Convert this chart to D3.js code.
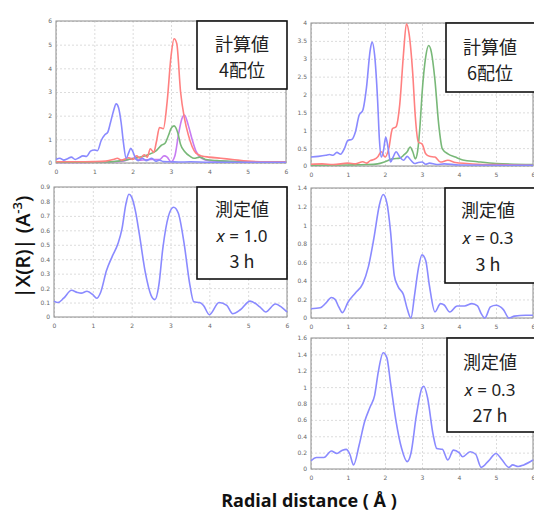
<!DOCTYPE html>
<html>
<head>
<meta charset="utf-8">
<script src="https://cdn.jsdelivr.net/npm/d3@7"></script>
<style>
  body { margin: 0; background: #fff; }
  svg { display: block; }
</style>
</head>
<body>
<div id="chart"></div>
<script>
// x axis of every panel: radial distance 0..6
var xTicks = [0, 1, 2, 3, 4, 5, 6]

// top left: calculated, 4-coordinated
var calc4Ticks = [0, 1, 2, 3, 4, 5, 6]
var calc4Blue = [[0,0.15],[0.1,0.2],[0.2,0.12],[0.3,0.18],[0.4,0.25],[0.5,0.15],[0.6,0.22],[0.7,0.3],[0.8,0.28],[0.9,0.5],[1.0,0.55],[1.08,0.52],[1.18,0.95],[1.28,1.2],[1.35,1.3],[1.42,1.7],[1.5,2.2],[1.57,2.5],[1.63,2.35],[1.7,1.7],[1.76,0.85],[1.83,0.2],[1.9,0.45],[1.95,0.62],[2.0,0.5],[2.06,0.25],[2.15,0.1],[2.25,0.2],[2.35,0.1],[2.5,0.2],[2.6,0.08],[2.7,0.12],[2.8,0.06],[3.0,0.05],[3.2,0.04],[3.5,0.05],[4,0.03],[5,0.03],[6,0.03]]
var calc4Red = [[0,0.05],[0.5,0.05],[1,0.06],[1.3,0.08],[1.5,0.15],[1.6,0.2],[1.7,0.12],[1.9,0.22],[2.0,0.15],[2.1,0.3],[2.2,0.2],[2.3,0.35],[2.38,0.25],[2.46,0.6],[2.55,0.45],[2.62,0.9],[2.7,1.5],[2.8,1.45],[2.9,2.6],[3.0,4.5],[3.08,5.25],[3.15,5.05],[3.25,3.0],[3.35,1.9],[3.45,1.2],[3.55,0.7],[3.65,0.42],[3.8,0.3],[4.0,0.25],[4.3,0.2],[4.6,0.15],[5.0,0.08],[5.5,0.05],[6,0.05]]
var calc4Green = [[0,0.03],[1,0.04],[1.5,0.06],[1.8,0.12],[2.0,0.18],[2.2,0.25],[2.4,0.35],[2.6,0.5],[2.75,0.75],[2.85,0.85],[2.93,1.15],[3.0,1.45],[3.08,1.57],[3.18,1.26],[3.25,0.78],[3.35,0.5],[3.5,0.28],[3.6,0.2],[3.75,0.25],[3.9,0.15],[4.2,0.1],[4.6,0.07],[5.2,0.05],[6,0.03]]
var calc4Purple = [[0,0.02],[1,0.03],[1.5,0.05],[1.8,0.1],[2.0,0.2],[2.2,0.12],[2.5,0.15],[2.7,0.15],[2.82,0.3],[2.9,0.25],[3.0,0.05],[3.1,0.3],[3.2,1.25],[3.28,1.85],[3.35,2.03],[3.45,1.6],[3.55,1.0],[3.65,0.5],[3.8,0.2],[4.0,0.1],[4.5,0.06],[6,0.03]]

// top right: calculated, 6-coordinated
var calc6Ticks = [0, 0.5, 1, 1.5, 2, 2.5, 3, 3.5, 4]
var calc6Blue = [[0,0.25],[0.2,0.27],[0.4,0.3],[0.5,0.32],[0.6,0.3],[0.7,0.38],[0.8,0.33],[0.9,0.48],[1.0,0.72],[1.1,0.74],[1.2,0.95],[1.3,1.42],[1.4,1.56],[1.5,2.2],[1.6,3.24],[1.65,3.47],[1.72,3.1],[1.8,1.84],[1.85,0.72],[1.9,0.25],[1.96,0.44],[2.02,0.81],[2.08,0.53],[2.15,0.11],[2.22,0.25],[2.3,0.4],[2.4,0.25],[2.5,0.16],[2.6,0.27],[2.7,0.16],[2.8,0.07],[2.9,0.1],[3.0,0.11],[3.1,0.05],[3.2,0.08],[3.4,0.04],[3.6,0.06],[4,0.03],[6,0.02]]
var calc6Red = [[0,0.05],[0.3,0.06],[0.6,0.04],[1.0,0.08],[1.2,0.06],[1.4,0.12],[1.5,0.08],[1.6,0.15],[1.7,0.18],[1.8,0.25],[1.9,0.4],[2.0,0.25],[2.1,0.48],[2.2,1.04],[2.3,1.1],[2.4,1.74],[2.5,3.14],[2.58,3.98],[2.65,3.7],[2.75,2.58],[2.82,1.37],[2.9,0.67],[3.0,0.62],[3.1,0.34],[3.2,0.27],[3.35,0.25],[3.5,0.11],[3.7,0.16],[3.9,0.1],[4.2,0.07],[4.5,0.05],[5,0.04],[6,0.02]]
var calc6Green = [[0,0.02],[1,0.03],[1.5,0.04],[1.8,0.06],[2.0,0.12],[2.2,0.2],[2.4,0.22],[2.5,0.3],[2.6,0.4],[2.68,0.53],[2.75,0.4],[2.82,0.2],[2.88,0.4],[2.95,1.18],[3.0,2.0],[3.1,3.05],[3.18,3.37],[3.25,3.2],[3.35,2.4],[3.45,1.18],[3.55,0.48],[3.7,0.34],[3.9,0.25],[4.1,0.17],[4.5,0.12],[5,0.07],[6,0.04]]

// middle left: measured, x = 1.0, 3 h
var meas10Ticks = [0, 0.1, 0.2, 0.3, 0.4, 0.5, 0.6, 0.7, 0.8, 0.9]
var meas10 = [[0,0.11],[0.1,0.1],[0.25,0.13],[0.45,0.185],[0.6,0.17],[0.7,0.165],[0.85,0.178],[1.0,0.155],[1.1,0.13],[1.2,0.17],[1.35,0.32],[1.5,0.42],[1.65,0.51],[1.75,0.61],[1.85,0.78],[1.93,0.85],[2.0,0.83],[2.1,0.73],[2.2,0.57],[2.35,0.31],[2.5,0.15],[2.6,0.12],[2.7,0.22],[2.8,0.47],[2.95,0.7],[3.08,0.76],[3.2,0.72],[3.35,0.51],[3.5,0.22],[3.6,0.105],[3.75,0.1],[3.85,0.08],[4.0,0.016],[4.25,0.1],[4.45,0.08],[4.6,0.023],[4.8,0.05],[5.05,0.11],[5.3,0.07],[5.45,0.035],[5.7,0.09],[5.85,0.07],[6.0,0.035]]

// middle right: measured, x = 0.3, 3 h
var meas03Ticks = [0, 0.2, 0.4, 0.6, 0.8, 1, 1.2, 1.4]
var meas03 = [[0,0.1],[0.25,0.11],[0.4,0.16],[0.55,0.22],[0.65,0.2],[0.75,0.12],[0.85,0.058],[1.0,0.17],[1.2,0.27],[1.4,0.37],[1.55,0.55],[1.7,0.86],[1.85,1.22],[1.95,1.33],[2.05,1.24],[2.15,0.93],[2.25,0.46],[2.35,0.34],[2.5,0.25],[2.6,0.1],[2.7,0.0],[2.8,0.25],[2.9,0.53],[3.0,0.68],[3.1,0.62],[3.2,0.35],[3.35,0.065],[3.5,0.155],[3.6,0.14],[3.75,0.065],[3.95,0.13],[4.15,0.13],[4.35,0.155],[4.5,0.13],[4.6,0.047],[4.7,0.0],[4.85,0.12],[5.0,0.137],[5.2,0.09],[5.35,0.0],[5.5,0.02],[5.8,0.03],[6.0,0.03]]

// bottom right: measured, x = 0.3, 27 h
var meas03LongTicks = [0, 0.2, 0.4, 0.6, 0.8, 1, 1.2, 1.4, 1.6]
var meas03Long = [[0,0.1],[0.15,0.14],[0.35,0.14],[0.55,0.22],[0.7,0.19],[0.85,0.23],[0.95,0.24],[1.05,0.18],[1.15,0.05],[1.3,0.29],[1.45,0.58],[1.6,0.76],[1.72,0.9],[1.82,1.19],[1.95,1.42],[2.05,1.36],[2.15,1.05],[2.3,0.58],[2.45,0.25],[2.6,0.09],[2.7,0.19],[2.85,0.66],[3.0,0.99],[3.05,1.01],[3.15,0.87],[3.3,0.42],[3.4,0.25],[3.55,0.24],[3.7,0.11],[3.85,0.23],[4.0,0.2],[4.1,0.15],[4.3,0.21],[4.45,0.18],[4.6,0.02],[4.8,0.1],[5.0,0.19],[5.15,0.12],[5.35,0.02],[5.45,0.05],[5.6,0.03],[5.75,0.05],[6.0,0.11]]

var blue = "#8a8aff", red = "#ff8080", green = "#78b878", purple = "#c77cf2"

var svg = d3.select("#chart").append("svg")
    .attr("width", 534)
    .attr("height", 516)
    .style("font-family", "'Noto Sans', sans-serif")

var panels = [
    { box: [56, 286, 21, 163], ticks: calc4Ticks,
      series: [[calc4Purple, purple], [calc4Green, green], [calc4Red, red], [calc4Blue, blue]],
      label: { rect: [197, 287, 21, 89], cx: 242, lines: [["計算値", 43], ["4配位", 69]] } },
    { box: [311, 533, 23, 166], ticks: calc6Ticks,
      series: [[calc6Green, green], [calc6Red, red], [calc6Blue, blue]],
      label: { rect: [446, 537, 23, 92], cx: 490, lines: [["計算値", 46], ["6配位", 72]] } },
    { box: [54, 287, 187, 317], ticks: meas10Ticks,
      series: [[meas10, blue]],
      label: { rect: [197, 287, 187, 279], cx: 242, lines: [["測定値", 208], ["= 1.0", 235, true], ["3 h", 260]] } },
    { box: [311, 533, 188, 318], ticks: meas03Ticks,
      series: [[meas03, blue]],
      label: { rect: [445, 537, 188, 283], cx: 488, lines: [["測定値", 209], ["= 0.3", 237, true], ["3 h", 263]] } },
    { box: [311, 533, 338, 469], ticks: meas03LongTicks,
      series: [[meas03Long, blue]],
      label: { rect: [447, 537, 338, 432], cx: 490, lines: [["測定値", 361], ["= 0.3", 389, true], ["27 h", 414]] } }
]

panels.forEach(function(p) {
    var x = d3.scaleLinear().domain([0, 6]).range([p.box[0], p.box[1]])
    var y = d3.scaleLinear().domain([0, d3.max(p.ticks)]).range([p.box[3], p.box[2]])
    var w = p.box[1] - p.box[0]
    var h = p.box[3] - p.box[2]

    var g = svg.append("g")

    // grid
    g.append("g")
        .attr("transform", "translate(0," + p.box[3] + ")")
        .call(d3.axisBottom(x).tickValues(xTicks).tickSize(-h).tickFormat(""))
        .call(function(s) { gridStyle(s) })
    g.append("g")
        .attr("transform", "translate(" + p.box[0] + ",0)")
        .call(d3.axisLeft(y).tickValues(p.ticks).tickSize(-w).tickFormat(""))
        .call(function(s) { gridStyle(s) })

    // frame
    g.append("rect")
        .attr("x", p.box[0]).attr("y", p.box[2])
        .attr("width", w).attr("height", h)
        .attr("fill", "none").attr("stroke", "#8c8c8c").attr("stroke-width", 1)

    // tick labels
    g.append("g")
        .attr("transform", "translate(0," + p.box[3] + ")")
        .call(d3.axisBottom(x).tickValues(xTicks).tickSize(0).tickPadding(7).tickFormat(d3.format("d")))
        .call(function(s) { labelStyle(s) })
    g.append("g")
        .attr("transform", "translate(" + p.box[0] + ",0)")
        .call(d3.axisLeft(y).tickValues(p.ticks).tickSize(0).tickPadding(4).tickFormat(function(d) { return d3.format("")(+d.toFixed(1)) }))
        .call(function(s) { labelStyle(s) })

    var line = d3.line()
        .x(function(d) { return x(d[0]) })
        .y(function(d) { return y(d[1]) })
        .curve(d3.curveMonotoneX)

    p.series.forEach(function(s) {
        g.append("path")
            .datum(s[0])
            .attr("d", line)
            .attr("fill", "none")
            .attr("stroke", s[1])
            .attr("stroke-width", 1.6)
            .attr("stroke-linejoin", "round")
    })

    // label box
    var r = p.label.rect
    g.append("rect")
        .attr("x", r[0]).attr("y", r[2])
        .attr("width", r[1] - r[0]).attr("height", r[3] - r[2])
        .attr("fill", "#fff").attr("stroke", "#111").attr("stroke-width", 1.6)

    p.label.lines.forEach(function(l) {
        var t = g.append("text")
            .attr("x", p.label.cx)
            .attr("y", l[1])
            .attr("text-anchor", "middle")
            .attr("dominant-baseline", "central")
            .style("fill", "#222")
        if (l[2]) {
            t.style("font-family", "'Noto Sans', sans-serif").style("font-size", "17px")
            t.append("tspan").style("font-style", "italic").text("x ")
            t.append("tspan").text(l[0])
        } else {
            t.style("font-family", "'Noto Sans CJK JP', sans-serif").style("font-size", "18px").text(l[0])
        }
    })
})

function gridStyle(g) {
    g.select(".domain").remove()
    g.selectAll("line").attr("stroke", "#dcdcdc").attr("stroke-dasharray", "2,2")
}

function labelStyle(g) {
    g.select(".domain").remove()
    g.selectAll("text").style("font-size", "6px").style("fill", "#666")
        .style("font-family", "'DejaVu Sans', sans-serif")
}

// y axis title
var yTitle = svg.append("text")
    .attr("transform", "translate(30,247) rotate(-90)")
    .attr("text-anchor", "middle")
    .style("font-family", "'Open Sans', sans-serif")
    .style("font-size", "20px")
    .style("font-weight", "600")
    .style("fill", "#111")
yTitle.append("tspan").text("|X(R)|  (A")
yTitle.append("tspan").attr("dy", -8).style("font-size", "13px").text("-3")
yTitle.append("tspan").attr("dy", 8).text(")")

// x axis title
svg.append("text")
    .attr("x", 309)
    .attr("y", 507)
    .attr("text-anchor", "middle")
    .style("font-family", "'Open Sans', sans-serif")
    .style("font-size", "18px")
    .style("font-weight", "bold")
    .style("fill", "#111")
    .text("Radial distance ( Å )")
</script>
</body>
</html>
